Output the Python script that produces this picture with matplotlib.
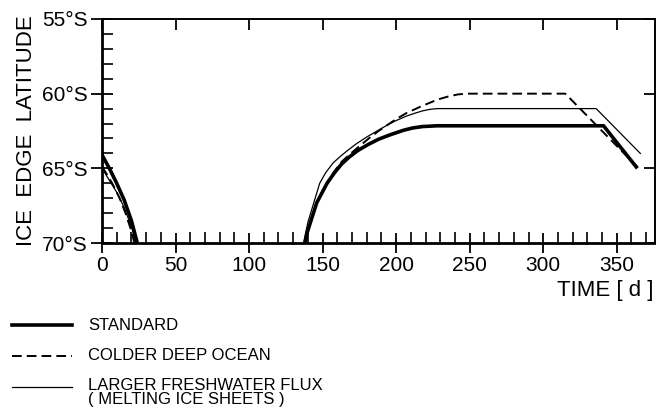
import numpy as np
import matplotlib.pyplot as plt
from matplotlib.lines import Line2D
from matplotlib.ticker import MultipleLocator

plt.rcParams['font.family'] = ['Liberation Sans', 'DejaVu Sans']

# standard run: autumn retreat + growth/plateau/decline
std_day1 = [0, 5, 10, 15, 20, 24]
std_lat1 = [64.1, 65.0, 66.0, 67.1, 68.5, 70.0]
std_day2 = [138, 139.5, 141.6, 146, 153, 158, 163, 168, 174, 181, 188, 196, 205, 211, 218, 228, 341, 364]
std_lat2 = [70.0, 69.3, 68.65, 67.3, 66.0, 65.3, 64.7, 64.25, 63.8, 63.4, 63.05, 62.75, 62.45, 62.3, 62.2, 62.15, 62.15, 65.0]

# colder deep ocean
cold_day1 = [0, 4, 8, 12, 16, 20, 22]
cold_lat1 = [64.9, 65.5, 66.2, 67.0, 68.0, 69.2, 70.0]
cold_day2 = [138, 139.5, 141.6, 146, 153, 158, 163, 168, 174, 182, 188, 194, 200, 207, 217, 228, 235, 242, 248, 315, 364]
cold_lat2 = [70.0, 69.3, 68.65, 67.3, 65.95, 65.2, 64.55, 64.1, 63.6, 62.95, 62.5, 62.1, 61.7, 61.3, 60.85, 60.4, 60.2, 60.05, 60.0, 60.0, 64.9]

# larger freshwater flux
fresh_day1 = [0, 5, 10, 15, 20, 23]
fresh_lat1 = [65.0, 65.8, 66.6, 67.6, 68.9, 70.0]
fresh_day2 = [137, 138.5, 140, 144, 148, 152, 157, 162, 167, 173, 180, 187, 194, 200, 207, 213, 218, 223, 228, 336, 366]
fresh_lat2 = [70.0, 69.3, 68.6, 67.3, 66.0, 65.3, 64.65, 64.2, 63.8, 63.35, 62.9, 62.5, 62.1, 61.8, 61.5, 61.3, 61.15, 61.05, 61.0, 61.0, 64.0]

lat_ticks = [55, 60, 65, 70]
lat_labels = ['55°S', '60°S', '65°S', '70°S']
day_ticks = [0, 50, 100, 150, 200, 250, 300, 350]

fig = plt.figure(figsize=(6.56, 4.12), dpi=100)
ax = fig.add_axes([0.1555, 0.410, 0.843, 0.544])

ax.plot(fresh_day1, fresh_lat1, color='black', lw=0.9)
ax.plot(fresh_day2, fresh_lat2, color='black', lw=0.9)
ax.plot(cold_day1, cold_lat1, color='black', lw=1.4, dashes=(5, 2.6))
ax.plot(cold_day2, cold_lat2, color='black', lw=1.4, dashes=(5, 2.6))
ax.plot(std_day1, std_lat1, color='black', lw=2.6, solid_capstyle='butt')
ax.plot(std_day2, std_lat2, color='black', lw=2.6, solid_capstyle='butt')

ax.set_xlim(0, 376)
ax.set_ylim(70, 55)
ax.set_yticks(lat_ticks)
ax.set_yticklabels(lat_labels)
ax.set_xticks(day_ticks)
ax.xaxis.set_minor_locator(MultipleLocator(10))
ax.yaxis.set_minor_locator(MultipleLocator(1))

ax.tick_params(which='major', direction='inout', length=14, width=1.3,
               labelsize=15, pad=2)
ax.tick_params(which='major', axis='y', length=16)
ax.tick_params(which='minor', direction='in', length=8, width=1.2)

# top and right: inward major ticks only
top = ax.secondary_xaxis('top')
top.set_xticks(day_ticks)
top.tick_params(direction='in', length=8, width=1.3, labeltop=False)
right = ax.secondary_yaxis('right')
right.set_yticks(lat_ticks)
right.tick_params(direction='in', length=8, width=1.3, labelright=False)

for s in ['left', 'bottom']:
    ax.spines[s].set_linewidth(2)
for s in ['top', 'right']:
    ax.spines[s].set_linewidth(1.2)
top.spines['top'].set_linewidth(1.2)
right.spines['right'].set_linewidth(1.2)

ax.set_ylabel('ICE  EDGE  LATITUDE', fontsize=16, labelpad=4)
fig.text(0.996, 0.295, 'TIME [ d ]', fontsize=16, ha='right', va='center')

# legend below the axes
leg_items = [
    ('STANDARD', dict(lw=2.6)),
    ('COLDER DEEP OCEAN', dict(lw=1.4, dashes=(5, 2.6))),
    ('LARGER FRESHWATER FLUX\n( MELTING ICE SHEETS )', dict(lw=0.9)),
]
for i, (lab, st) in enumerate(leg_items):
    yy = 1 - (325 + 31 * i) / 412
    fig.add_artist(Line2D([12 / 656, 72 / 656], [yy, yy], color='black', **st))
    if '\n' in lab:
        fig.text(88 / 656, yy + 0.022, lab, fontsize=12, va='top', linespacing=0.95)
    else:
        fig.text(88 / 656, yy, lab, fontsize=12, va='center')

fig.savefig('out.png', dpi=100, facecolor='white')
